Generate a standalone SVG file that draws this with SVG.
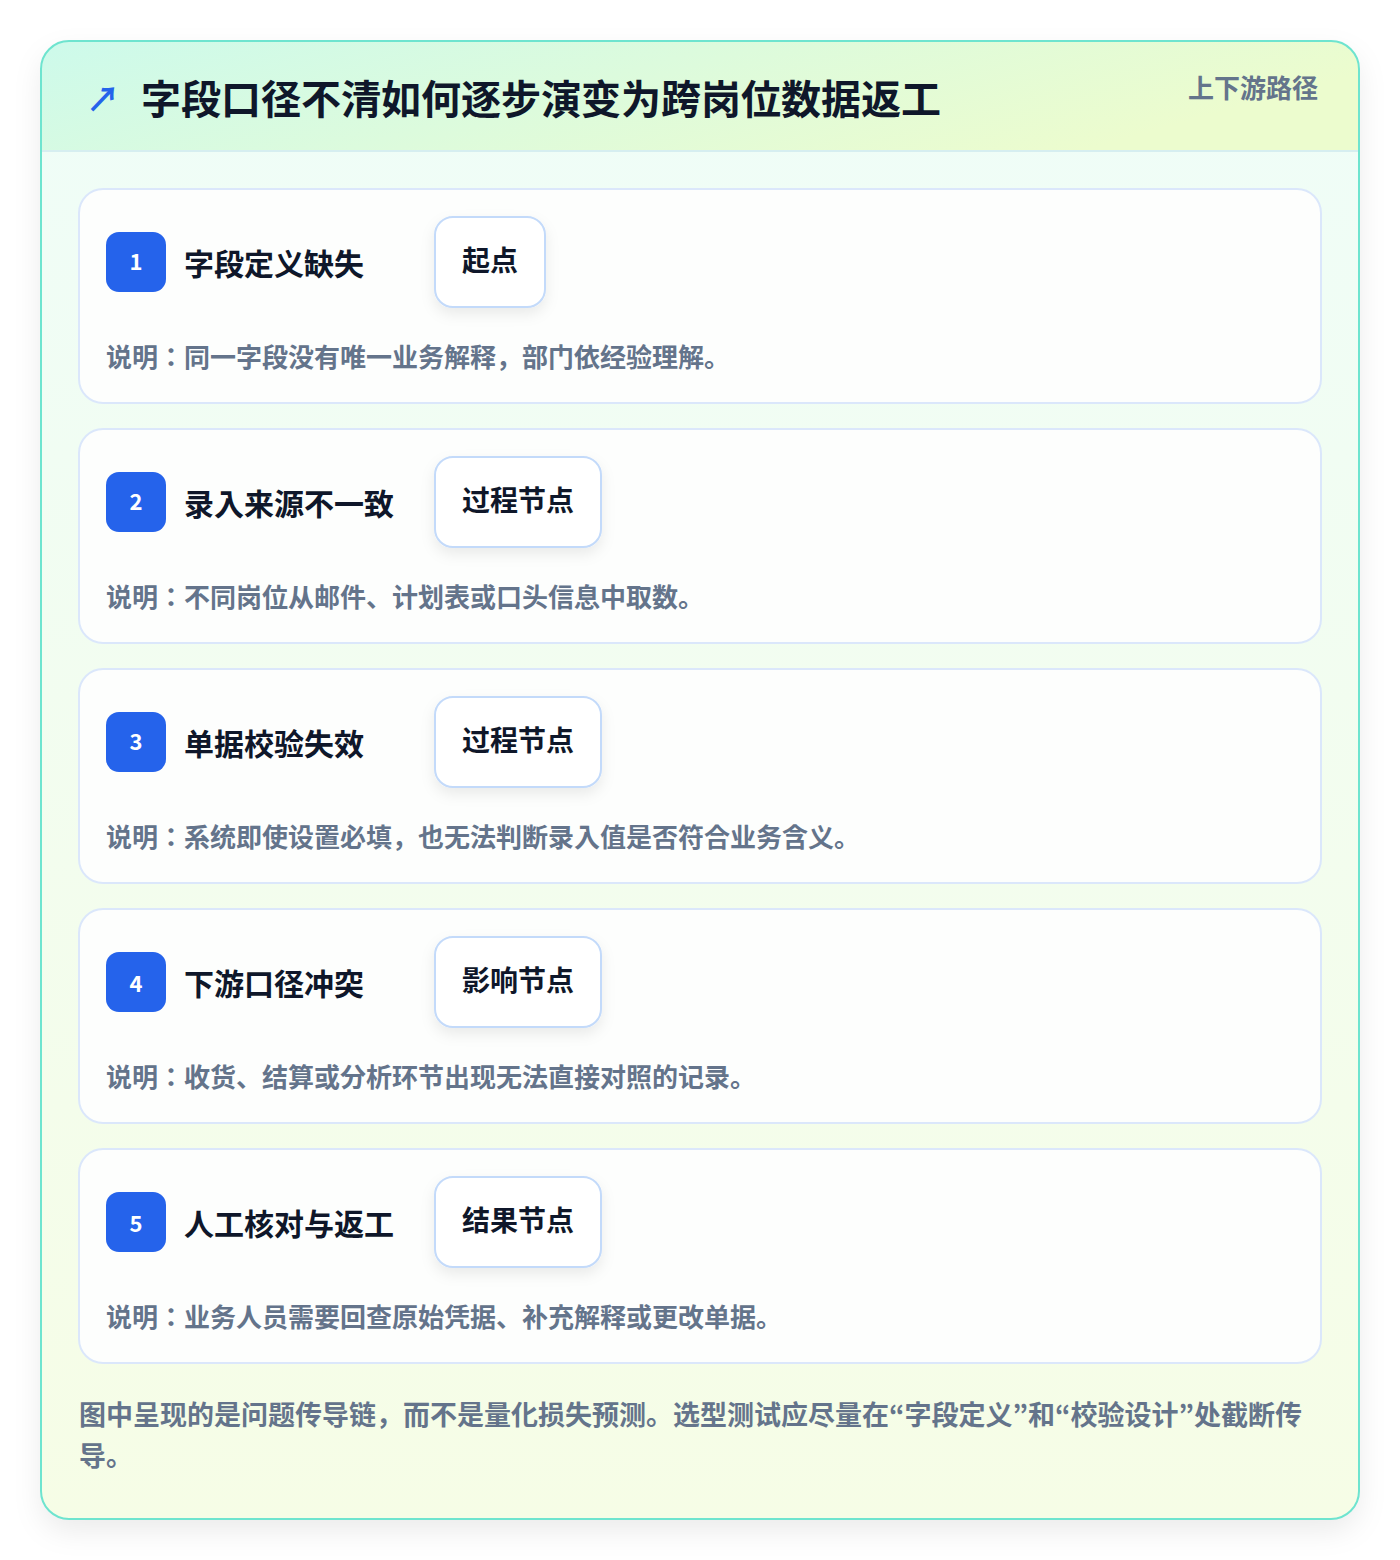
<svg xmlns="http://www.w3.org/2000/svg" width="1400" height="1560" viewBox="0 0 1400 1560">
<defs>
<linearGradient id="hdr" x1="0" y1="0" x2="1" y2="0.3">
<stop offset="0" stop-color="#cdfaeb"/>
<stop offset="1" stop-color="#ecfcce"/>
</linearGradient>
<linearGradient id="body" x1="0" y1="0" x2="0" y2="1">
<stop offset="0" stop-color="#effdf8"/>
<stop offset="1" stop-color="#f6fde6"/>
</linearGradient>
<filter id="sh" x="-10%" y="-10%" width="120%" height="120%">
<feDropShadow dx="0" dy="12" stdDeviation="14" flood-color="#0f172a" flood-opacity="0.08"/>
</filter>
<filter id="tsh" x="-30%" y="-30%" width="160%" height="160%">
<feDropShadow dx="0" dy="6" stdDeviation="7" flood-color="#0f172a" flood-opacity="0.08"/>
</filter>
<clipPath id="cardclip"><rect x="41" y="41" width="1318" height="1478" rx="28"/></clipPath>
</defs>
<style>
.t{font-family:"Noto Sans CJK JP","Liberation Sans",sans-serif;font-weight:700}
.card{fill:#fdfefd;stroke:#dbe7fb;stroke-width:2}
.badge{fill:#2563eb}
.num{fill:#ffffff;font-size:22px;text-anchor:middle}
.ttl{fill:#0f172a;font-size:30px}
.tag{fill:#ffffff;stroke:#c3dafa;stroke-width:2}
.tagt{fill:#0f172a;font-size:28px;text-anchor:middle}
.desc{fill:#64748b;font-size:26px}
.foot{fill:#64748b;font-size:27px}
</style>
<rect width="1400" height="1560" fill="#ffffff"/>
<g id="frame">
<rect x="41" y="41" width="1318" height="1478" rx="28" fill="url(#body)" filter="url(#sh)"/>
<g clip-path="url(#cardclip)">
<rect x="41" y="41" width="1318" height="110" fill="url(#hdr)"/>
<line x1="41" y1="151" x2="1359" y2="151" stroke="#d6eef0" stroke-width="2"/>
</g>
<rect x="41" y="41" width="1318" height="1478" rx="28" fill="none" stroke="#6ee4cf" stroke-width="2"/>
</g>
<g id="header">
<text class="t" x="86" y="112" font-size="34" fill="#2563eb">↗</text>
<text class="t" x="141" y="114" font-size="40" fill="#0f172a">字段口径不清如何逐步演变为跨岗位数据返工</text>
<text class="t" x="1318" y="98" font-size="26" fill="#64748b" text-anchor="end">上下游路径</text>
</g>
<g id="node1">
<rect class="card" x="79" y="189" width="1242" height="214" rx="24"/>
<rect class="badge" x="106" y="232" width="60" height="60" rx="13"/>
<text class="t num" x="136" y="270">1</text>
<text class="t ttl" x="184" y="275">字段定义缺失</text>
<rect class="tag" x="435" y="217" width="110" height="90" rx="18" filter="url(#tsh)"/>
<text class="t tagt" x="490" y="271">起点</text>
<text class="t desc" x="106" y="367">说明：同一字段没有唯一业务解释，部门依经验理解。</text>
</g>
<g id="node2">
<rect class="card" x="79" y="429" width="1242" height="214" rx="24"/>
<rect class="badge" x="106" y="472" width="60" height="60" rx="13"/>
<text class="t num" x="136" y="510">2</text>
<text class="t ttl" x="184" y="515">录入来源不一致</text>
<rect class="tag" x="435" y="457" width="166" height="90" rx="18" filter="url(#tsh)"/>
<text class="t tagt" x="518" y="511">过程节点</text>
<text class="t desc" x="106" y="607">说明：不同岗位从邮件、计划表或口头信息中取数。</text>
</g>
<g id="node3">
<rect class="card" x="79" y="669" width="1242" height="214" rx="24"/>
<rect class="badge" x="106" y="712" width="60" height="60" rx="13"/>
<text class="t num" x="136" y="750">3</text>
<text class="t ttl" x="184" y="755">单据校验失效</text>
<rect class="tag" x="435" y="697" width="166" height="90" rx="18" filter="url(#tsh)"/>
<text class="t tagt" x="518" y="751">过程节点</text>
<text class="t desc" x="106" y="847">说明：系统即使设置必填，也无法判断录入值是否符合业务含义。</text>
</g>
<g id="node4">
<rect class="card" x="79" y="909" width="1242" height="214" rx="24"/>
<rect class="badge" x="106" y="952" width="60" height="60" rx="13"/>
<text class="t num" x="136" y="992">4</text>
<text class="t ttl" x="184" y="995">下游口径冲突</text>
<rect class="tag" x="435" y="937" width="166" height="90" rx="18" filter="url(#tsh)"/>
<text class="t tagt" x="518" y="991">影响节点</text>
<text class="t desc" x="106" y="1087">说明：收货、结算或分析环节出现无法直接对照的记录。</text>
</g>
<g id="node5">
<rect class="card" x="79" y="1149" width="1242" height="214" rx="24"/>
<rect class="badge" x="106" y="1192" width="60" height="60" rx="13"/>
<text class="t num" x="136" y="1232">5</text>
<text class="t ttl" x="184" y="1235">人工核对与返工</text>
<rect class="tag" x="435" y="1177" width="166" height="90" rx="18" filter="url(#tsh)"/>
<text class="t tagt" x="518" y="1231">结果节点</text>
<text class="t desc" x="106" y="1327">说明：业务人员需要回查原始凭据、补充解释或更改单据。</text>
</g>
<g id="connectors"></g>
<g id="footer">
<text class="t foot" x="79" y="1425">图中呈现的是问题传导链，而不是量化损失预测。选型测试应尽量在“字段定义”和“校验设计”处截断传</text>
<text class="t foot" x="79" y="1466">导。</text>
</g>
</svg>
